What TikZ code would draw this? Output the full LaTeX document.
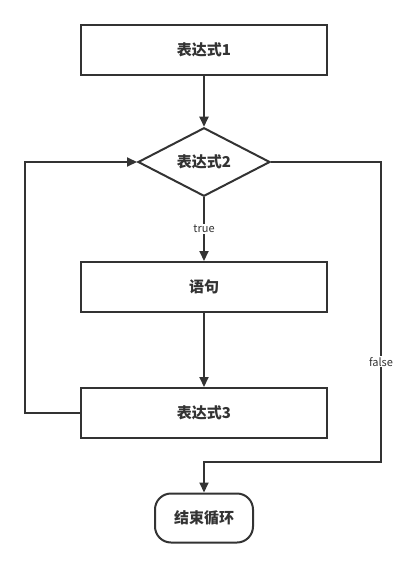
\documentclass[tikz,border=0pt]{standalone}
\usepackage{fontspec}
\setmainfont{Noto Sans CJK SC}
\usetikzlibrary{arrows.meta,shapes.geometric}
\definecolor{ink}{HTML}{333333}

\begin{document}
\begin{tikzpicture}[x=1pt, y=-1pt, line width=2pt, draw=ink, text=ink,
        box/.style={draw, rectangle, minimum width=246pt, minimum height=50pt, inner sep=0pt, font=\fontsize{15}{15}\selectfont\bfseries},
        cond/.style={draw, diamond, minimum width=132pt, minimum height=66pt, inner sep=0pt, font=\fontsize{15}{15}\selectfont\bfseries},
        term/.style={draw, rectangle, rounded corners=16pt, minimum width=98pt, minimum height=49pt, inner sep=0pt, font=\fontsize{15}{15}\selectfont\bfseries},
        lbl/.style={fill=white, inner sep=1pt, font=\fontsize{11}{11}\selectfont},
        flow/.style={draw=ink, line width=2pt, -{Triangle[length=10pt, width=9pt]}}]
    \useasboundingbox (0,0) rectangle (410,568);
    \node[box]  (e1)   at (204, 50)  {表达式1};
    \node[cond] (e2)   at (204, 162) {表达式2};
    \node[box]  (s)    at (204, 287) {语句};
    \node[box]  (e3)   at (204, 413) {表达式3};
    \node[term] (stop) at (204, 518) {结束循环};
    \coordinate (lc) at (25, 413);
    \coordinate (rc) at (381, 462);
    \draw[flow] (e1)      -- (e2);
    \draw[flow] (e2)      -- node[lbl] {true} (s);
    \draw[flow] (s)       -- (e3);
    \draw[flow] (e3.west) -- (lc) |- (e2.west);
    \draw[flow] (e2.east) -| node[lbl, pos=0.833] {false} (rc) -| (stop.north);
\end{tikzpicture}
\end{document}
